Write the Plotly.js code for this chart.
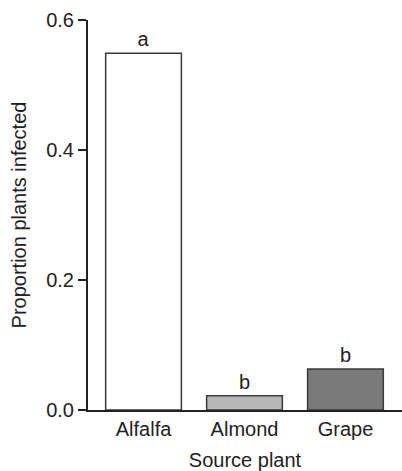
<!DOCTYPE html>
<html>
<head>
<meta charset="utf-8">
<script src="https://cdn.plot.ly/plotly-3.0.1.min.js"></script>
<style>html,body{margin:0;padding:0;background:#fff;}#chart{width:402px;height:471px;}</style>
</head>
<body>
<div id="chart"></div>
<script>
const categories = ["Alfalfa", "Almond", "Grape"];
const proportionInfected = [0.549, 0.022, 0.063];
const groupLetters = ["a", "b", "b"];
const barColors = ["#ffffff", "#b8b8b8", "#7a7a7a"];
const yTickValues = [0, 0.2, 0.4, 0.6];
const yTickLabels = ["0.0", "0.2", "0.4", "0.6"];

const fontFamily = "Liberation Sans, Arial, sans-serif";
const textColor = "#222222";

const trace = {
  type: "bar",
  x: categories,
  y: proportionInfected,
  width: 0.75,
  marker: { color: barColors, line: { color: "#3a3a3a", width: 1.5 } },
  text: groupLetters,
  textposition: "outside",
  textfont: { family: fontFamily, size: 20, color: textColor },
  cliponaxis: false,
  hoverinfo: "none"
};

const layout = {
  width: 402,
  height: 471,
  margin: { l: 88, r: 0, t: 20, b: 61 },
  paper_bgcolor: "#ffffff",
  plot_bgcolor: "#ffffff",
  showlegend: false,
  font: { family: fontFamily, size: 20, color: textColor },
  xaxis: {
    type: "category",
    range: [-0.55, 2.56],
    automargin: false,
    showline: true,
    linecolor: "#222222",
    linewidth: 2,
    ticks: "",
    showgrid: false,
    zeroline: false,
    tickfont: { family: fontFamily, size: 20, color: textColor },
    title: { text: "Source plant", font: { family: fontFamily, size: 20, color: textColor }, standoff: 17 }
  },
  yaxis: {
    range: [0, 0.6],
    automargin: false,
    tickvals: yTickValues,
    ticktext: yTickLabels,
    showline: true,
    linecolor: "#222222",
    linewidth: 2,
    ticks: "outside",
    ticklen: 8,
    tickwidth: 2,
    tickcolor: "#222222",
    showgrid: false,
    zeroline: false,
    tickfont: { family: fontFamily, size: 20, color: textColor },
    title: { text: "Proportion plants infected", font: { family: fontFamily, size: 20, color: textColor }, standoff: 14 }
  }
};

Plotly.newPlot("chart", [trace], layout, { displayModeBar: false, staticPlot: true });
</script>
</body>
</html>
